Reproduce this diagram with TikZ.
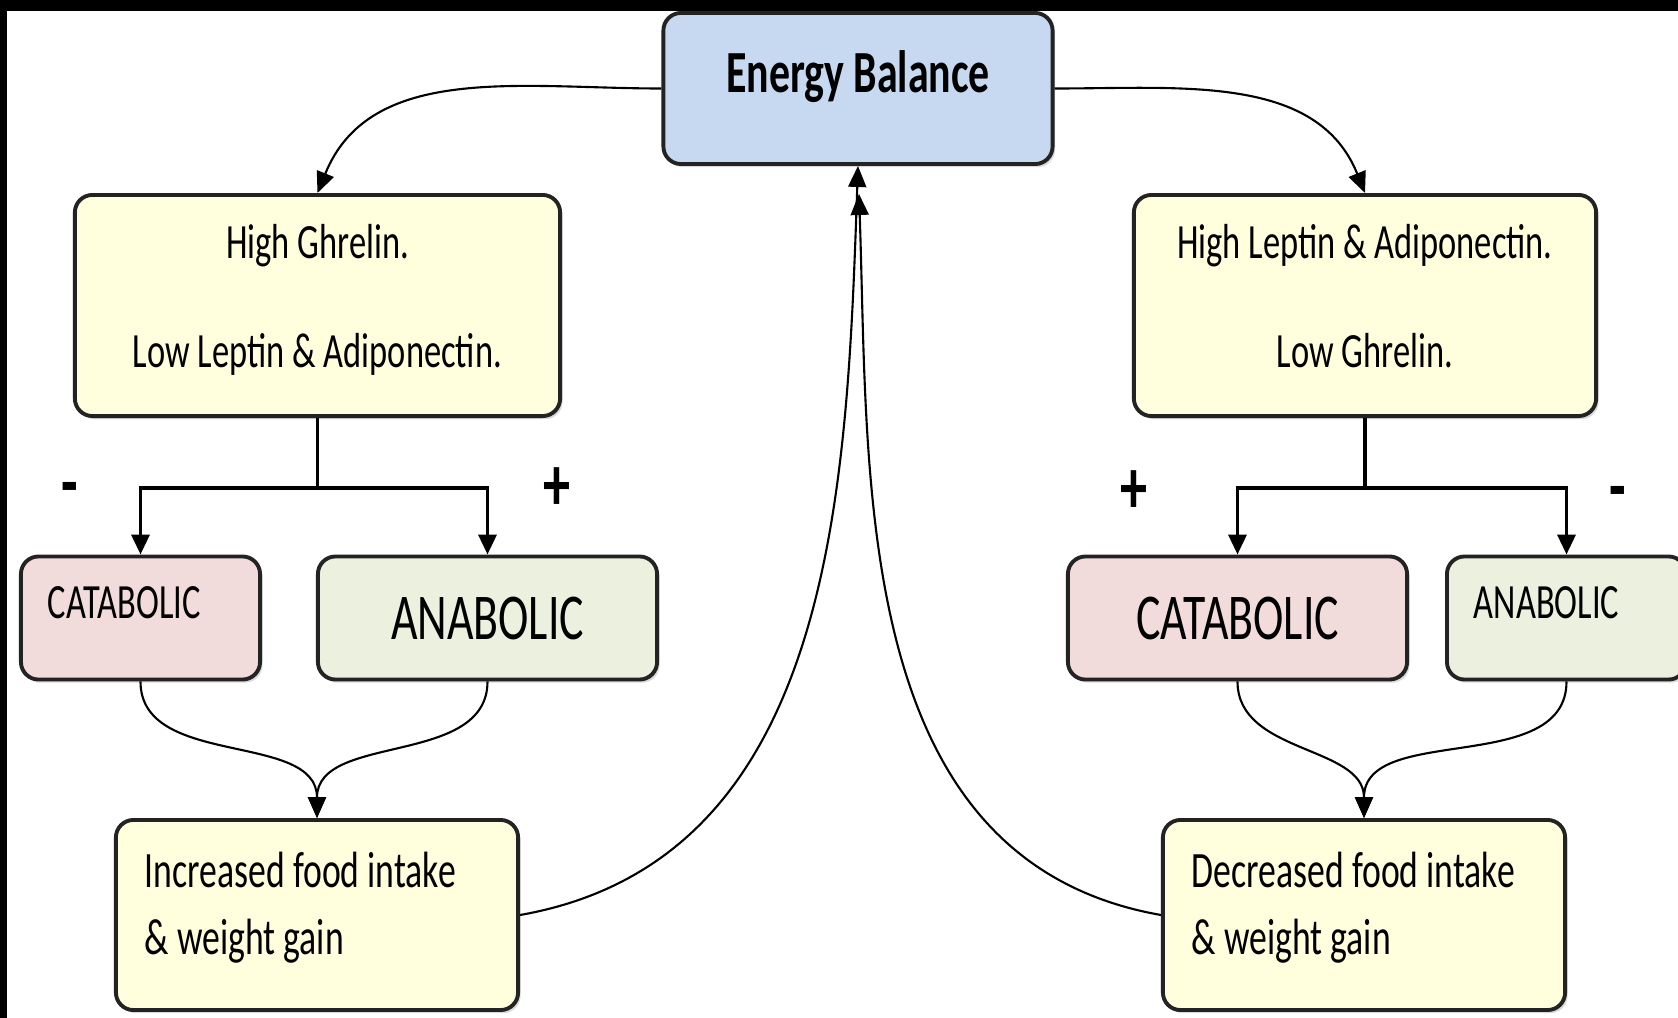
\documentclass[tikz,border=0pt]{standalone}
\usepackage{fontspec}
\setmainfont[FakeStretch=0.7]{Carlito}
\usetikzlibrary{arrows.meta,positioning,shadows}
\definecolor{balanceFill}{RGB}{198,217,240}
\definecolor{signalFill}{RGB}{255,255,221}
\definecolor{cataFill}{RGB}{242,220,219}
\definecolor{anaFill}{RGB}{235,241,222}
\definecolor{boxLine}{RGB}{35,35,35}
\tikzset{
    box/.style={rectangle,draw=boxLine,line width=1.1pt,rounded corners=5pt,
        drop shadow={opacity=0.3,shadow xshift=0.7pt,shadow yshift=-0.9pt}},
    balance/.style={box,fill=balanceFill,minimum width=3.89cm,minimum height=1.51cm,
        text height=0.37cm,text depth=0.3cm,font=\fontsize{17}{20}\selectfont\bfseries},
    hormone/.style={box,fill=signalFill,minimum height=2.21cm,align=center,
        text depth=0.2cm,font=\fontsize{14}{17}\selectfont},
    pathbig/.style={box,minimum width=3.39cm,minimum height=1.23cm,
        font=\fontsize{18.6}{20}\selectfont},
    pathsmall/.style={box,minimum height=1.23cm,text width=1.85cm,inner xsep=0.27cm,
        align=flush left,text height=0.3cm,text depth=0.3cm,font=\fontsize{14}{17}\selectfont},
    outcome/.style={box,fill=signalFill,minimum height=1.9cm,text width=3.44cm,
        inner xsep=0.29cm,align=flush left,text depth=0.9cm,font=\fontsize{14.5}{19}\selectfont},
    sign/.style={inner sep=0pt,font=\fontsize{22}{22}\selectfont\bfseries},
    tree/.style={-{Triangle[length=0.2cm,width=0.18cm]},line width=1pt},
    flow/.style={-{Triangle[length=0.21cm,width=0.18cm]},line width=0.6pt}
}
\begin{document}
\begin{tikzpicture}[x=0.01cm,y=0.01cm]
    \useasboundingbox (0,0) rectangle (1678,-1018);
    % frame
    \fill[black] (0,0) rectangle (1678,-11);
    \fill[black] (0,0) rectangle (7,-1018);

    % top
    \node[balance] (bal) at (858,-88.5) {Energy Balance};
    \node[hormone,minimum width=4.85cm] (hiGhr) at (317.5,-305.5) {High Ghrelin.\\[14pt]Low Leptin \& Adiponectin.};
    \node[hormone,minimum width=4.62cm] (hiLep) at (1365,-305.5) {High Leptin \& Adiponectin.\\[14pt]Low Ghrelin.};

    % pathways
    \node[pathsmall,fill=cataFill] (cataL) at (140.5,-618) {CATABOLIC};
    \node[pathbig,fill=anaFill]    (anaL)  at (487.5,-618) {ANABOLIC};
    \node[pathbig,fill=cataFill]   (cataR) at (1237.5,-618) {CATABOLIC};
    \node[pathsmall,fill=anaFill]  (anaR)  at (1566.5,-618) {ANABOLIC};

    \node[sign] (minusL) at (69.5,-495.5) {-};
    \node[sign] (plusL)  at (556.5,-489) {+};
    \node[sign] (plusR)  at (1134,-492) {+};
    \node[sign] (minusR) at (1618,-499) {-};

    % outcomes
    \node[outcome,minimum width=4.02cm] (gainL) at (317,-915) {Increased food intake\\\& weight gain};
    \node[outcome,minimum width=4.02cm] (lossR) at (1364,-915) {Decreased food intake\\\& weight gain};

    \draw[flow] (bal.west) to[out=180,in=68] (hiGhr.north);
    \draw[flow] (bal.east) to[out=0,in=112] (hiLep.north);
    \draw[tree] (hiGhr.south) -- ++(0,-70) -| (cataL.north);
    \draw[tree] (hiGhr.south) -- ++(0,-70) -| (anaL.north);
    \draw[tree] (hiLep.south) -- ++(0,-70) -| (cataR.north);
    \draw[tree] (hiLep.south) -- ++(0,-70) -| (anaR.north);
    \draw[flow] (cataL.south) to[out=-90,in=90] (gainL.north);
    \draw[flow] (anaL.south)  to[out=-90,in=90] (gainL.north);
    \draw[flow] (cataR.south) to[out=-90,in=90] (lossR.north);
    \draw[flow] (anaR.south)  to[out=-90,in=90] (lossR.north);
    \draw[flow] (gainL.east) to[out=10,in=-92] (bal.south);
    \draw[flow,shorten >=0.28cm] (lossR.west) to[out=170,in=-88] (bal.south);
\end{tikzpicture}
\end{document}
